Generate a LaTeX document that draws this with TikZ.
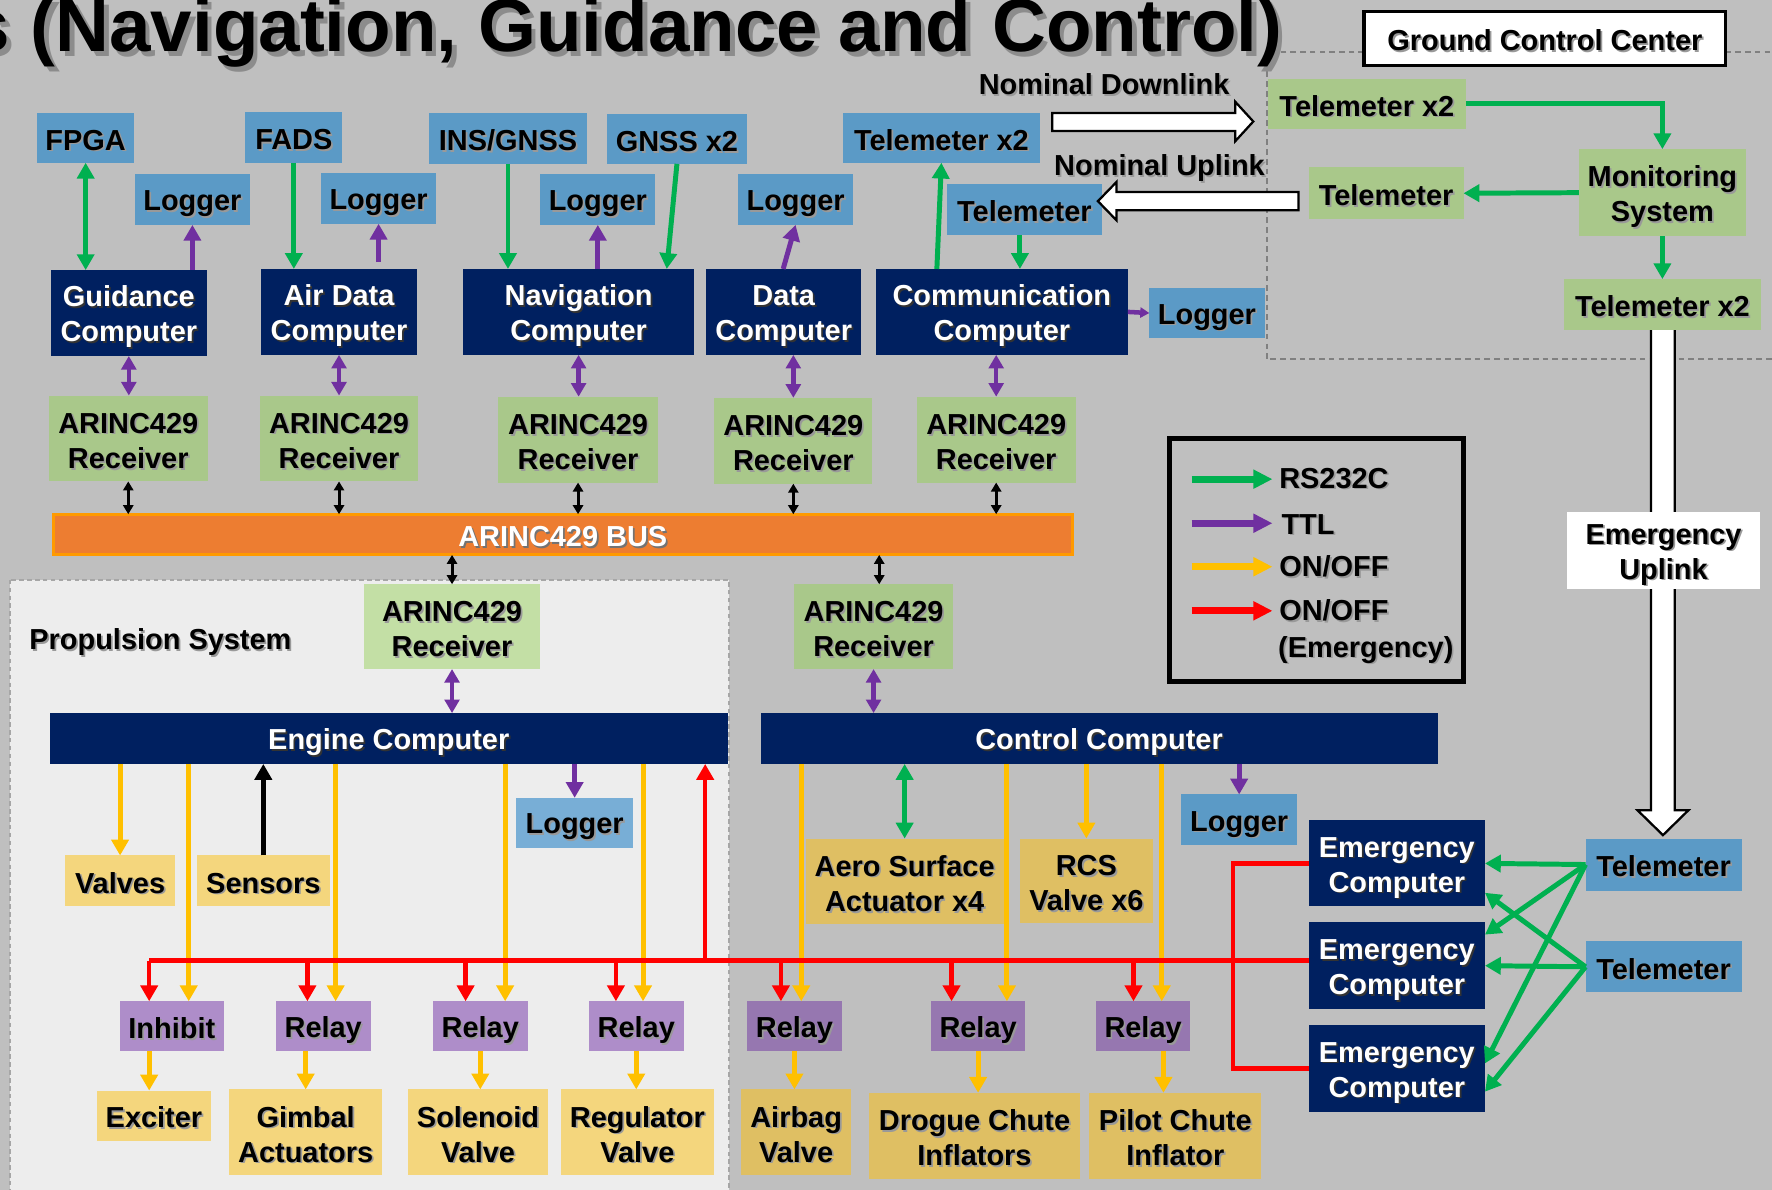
\documentclass[tikz,border=0pt]{standalone}
\usepackage{fontspec}
\setmainfont{Liberation Sans}
\usetikzlibrary{arrows.meta,calc}

\definecolor{bg}{HTML}{BFBFBF}
\definecolor{proparea}{HTML}{EDEDED}
\definecolor{navy}{HTML}{002060}
\definecolor{bluebox}{HTML}{5B9AC6}
\definecolor{bluelite}{HTML}{78AED6}
\definecolor{grnbox}{HTML}{A9C88A}
\definecolor{grnlite}{HTML}{C3DFA5}
\definecolor{yelbox}{HTML}{F4D67D}
\definecolor{yeldark}{HTML}{DFBF63}
\definecolor{purlite}{HTML}{AE8DC9}
\definecolor{purdark}{HTML}{9677B0}
\definecolor{busfill}{HTML}{ED7D31}
\definecolor{busline}{HTML}{FF9A00}
\definecolor{garrow}{HTML}{00B050}
\definecolor{parrow}{HTML}{7030A0}
\definecolor{yarrow}{HTML}{FFC000}
\definecolor{rarrow}{HTML}{FF0000}
\colorlet{shadowc}{black!40}

% text line with a soft drop shadow and a font-sized strut
\newcommand\tsh[1]{\leavevmode\rule[-0.134em]{0pt}{1.117em}\rlap{\kern.06em\raisebox{-.06em}[0pt][0pt]{\color{shadowc}#1}}#1}
\newcommand\boxfont{\fontsize{12.8pt}{15.5pt}\selectfont\bfseries\lineskiplimit=-100pt\relax}
% box from its corner coordinates: name, style, x1, y1, x2, y2, text
\newcommand\bx[7]{\node[#2, minimum width={(#5-#3)*0.5pt}, minimum height={(#6-#4)*0.5pt}] (#1) at ({(#3+#5)/2},{(#4+#6)/2}) {#7};}

\tikzset{
  bxs/.style={inner sep=0pt, outer sep=0pt, align=center, font=\boxfont, text=black},
  nv/.style={bxs, fill=navy, text=white, font={\boxfont\colorlet{shadowc}{black!80}}},
  bl/.style={bxs, fill=bluebox},
  bll/.style={bxs, fill=bluelite},
  gr/.style={bxs, fill=grnbox},
  grl/.style={bxs, fill=grnlite},
  yl/.style={bxs, fill=yelbox},
  yd/.style={bxs, fill=yeldark},
  pl/.style={bxs, fill=purlite},
  pd/.style={bxs, fill=purdark},
  wh/.style={bxs, fill=white},
  lbl/.style={inner sep=0pt, outer sep=0pt, font=\boxfont},
  tipbig/.tip={Triangle[length=7pt,width=7.5pt]},
  tipmid/.tip={Triangle[length=6pt,width=6.5pt]},
  tipsm/.tip={Triangle[length=4pt,width=4.5pt]},
  ga/.style={draw=garrow, line width=2.2pt, -tipbig},
  gda/.style={draw=garrow, line width=2.2pt, tipbig-tipbig},
  pa/.style={draw=parrow, line width=2.2pt, -tipbig},
  pas/.style={draw=parrow, line width=2pt, -tipsm},
  pda/.style={draw=parrow, line width=2pt, tipmid-tipmid},
  ya/.style={draw=yarrow, line width=2.2pt, -tipbig},
  ra/.style={draw=rarrow, line width=2pt, -tipbig},
  rl/.style={draw=rarrow, line width=2pt},
  bka/.style={draw=black, line width=1.3pt, tipsm-tipsm},
  bks/.style={draw=black, line width=2.2pt, -tipbig},
  fat/.style={fill=white, draw=black, line width=1pt, line join=miter},
  lga/.style={line width=3pt, -{Triangle[length=8.5pt,width=8pt]}},
}

\begin{document}
\begin{tikzpicture}[x=0.5pt, y=-0.5pt]
\useasboundingbox (0,0) rectangle (1568,1053);
\clip (0,0) rectangle (1568,1053);
\fill[bg] (0,0) rectangle (1568,1053);

% propulsion system area
\draw[fill=proparea, draw=black!35, line width=0.9pt, dash pattern=on 2pt off 1.5pt] (9,513) rectangle (645,1080);

% ground segment outline
\draw[draw=black!50, line width=0.8pt, dash pattern=on 2.5pt off 1.8pt] (1207,46) -- (1121,46) -- (1121,318) -- (1580,318);
\draw[draw=black!50, line width=0.8pt, dash pattern=on 2.5pt off 1.8pt] (1527,46) -- (1580,46);

% title
\node[anchor=base east, inner sep=0pt, font={\fontsize{33pt}{38pt}\selectfont\bfseries\colorlet{shadowc}{black!45}}] (title) at (1135,46) {\tsh{s (Navigation, Guidance and Control)}};

% emergency uplink shaft
\draw[fat] (1461,288) -- (1461,717) -- (1449,717) -- (1471.5,739) -- (1494,717) -- (1482,717) -- (1482,288) -- cycle;

% ground control center
\node[bxs, fill=white, draw=black, line width=1.5pt, minimum width=160pt, minimum height=24pt] (gcc) at (1367,34) {\tsh{Ground Control Center}};
\bx{gtx}{gr}{1122}{70}{1297}{114}{\tsh{Telemeter x2}}
\bx{mon}{gr}{1397}{132}{1545}{209}{\tsh{Monitoring}\\\tsh{System}}
\bx{gt}{gr}{1158}{148}{1295}{194}{\tsh{Telemeter}}
\bx{gtx2}{gr}{1384}{247}{1558}{292}{\tsh{Telemeter x2}}

% sensors and loggers, top row
\bx{fpga}{bl}{32.6}{100}{119}{144}{\tsh{FPGA}}
\bx{fads}{bl}{217}{99}{303}{144}{\tsh{FADS}}
\bx{ins}{bl}{380}{100}{519}{145}{\tsh{INS/GNSS}}
\bx{gnss}{bl}{537}{101}{661}{145}{\tsh{GNSS x2}}
\bx{telx}{bl}{746}{100}{920}{144}{\tsh{Telemeter x2}}
\bx{lg1}{bl}{119.5}{154}{221}{199}{\tsh{Logger}}
\bx{lg2}{bl}{284}{153}{386}{198}{\tsh{Logger}}
\bx{lg3}{bl}{478}{154}{580}{199}{\tsh{Logger}}
\bx{lg4}{bl}{653}{154}{755}{199}{\tsh{Logger}}
\bx{tel}{bl}{838}{163}{975}{208}{\tsh{Telemeter}}
\bx{lg5}{bl}{1017}{255}{1119}{299}{\tsh{Logger}}

% flight computers
\bx{guid}{nv}{45}{239}{183}{315}{\tsh{Guidance}\\\tsh{Computer}}
\bx{adc}{nv}{231}{238}{369}{314}{\tsh{Air Data}\\\tsh{Computer}}
\bx{nav}{nv}{410}{238}{614}{314}{\tsh{Navigation}\\\tsh{Computer}}
\bx{dat}{nv}{625}{238}{762}{314}{\tsh{Data}\\\tsh{Computer}}
\bx{com}{nv}{775}{238}{998}{314}{\tsh{Communication}\\\tsh{Computer}}

% ARINC429 receivers
\bx{r1}{gr}{43}{350}{184}{426}{\tsh{ARINC429}\\\tsh{Receiver}}
\bx{r2}{gr}{230}{350}{370}{426}{\tsh{ARINC429}\\\tsh{Receiver}}
\bx{r3}{gr}{441}{351}{582}{427}{\tsh{ARINC429}\\\tsh{Receiver}}
\bx{r4}{gr}{632}{352}{772}{428}{\tsh{ARINC429}\\\tsh{Receiver}}
\bx{r5}{gr}{811}{351}{952}{427}{\tsh{ARINC429}\\\tsh{Receiver}}
\bx{rp}{grl}{322}{517}{478}{592}{\tsh{ARINC429}\\\tsh{Receiver}}
\bx{rc}{gr}{703}{517}{843}{592}{\tsh{ARINC429}\\\tsh{Receiver}}

% bus
\node[bxs, fill=busfill, draw=busline, line width=1.3pt, text=white, font={\boxfont\colorlet{shadowc}{black!55}}, minimum width=451pt, minimum height=18pt] (bus) at (498,473) {\tsh{ARINC429 BUS}};

% propulsion and control computers
\bx{eng}{nv}{44}{631}{644}{676}{\tsh{Engine Computer}}
\bx{ctl}{nv}{673}{631}{1272}{676}{\tsh{Control Computer}}

\node[lbl, anchor=base west] (psys) at (26,575) {\tsh{Propulsion System}};

% engine peripherals
\bx{val}{yl}{57.5}{757}{155}{802}{\tsh{Valves}}
\bx{sen}{yl}{174}{757}{292}{802}{\tsh{Sensors}}
\bx{elg}{bll}{457}{706}{560}{750}{\tsh{Logger}}

% control peripherals
\bx{aero}{yd}{713}{742}{888}{818}{\tsh{Aero Surface}\\\tsh{Actuator x4}}
\bx{rcs}{yd}{902.6}{742}{1020}{817}{\tsh{RCS}\\\tsh{Valve x6}}
\bx{clg}{bl}{1045}{703}{1148}{748}{\tsh{Logger}}

% relays
\bx{inh}{pl}{106}{886}{198}{930}{\tsh{Inhibit}}
\bx{rl1}{pl}{244}{886}{328}{930}{\tsh{Relay}}
\bx{rl2}{pl}{383}{886}{467}{930}{\tsh{Relay}}
\bx{rl3}{pl}{521}{886}{605}{930}{\tsh{Relay}}
\bx{rl4}{pd}{661}{886}{745}{930}{\tsh{Relay}}
\bx{rl5}{pd}{824}{886}{907}{930}{\tsh{Relay}}
\bx{rl6}{pd}{970}{886}{1053}{930}{\tsh{Relay}}

% actuated devices
\bx{exc}{yl}{86}{965}{186.5}{1009.5}{\tsh{Exciter}}
\bx{gim}{yl}{203}{964}{338}{1040}{\tsh{Gimbal}\\\tsh{Actuators}}
\bx{sol}{yl}{361}{964}{485}{1040}{\tsh{Solenoid}\\\tsh{Valve}}
\bx{reg}{yl}{496}{964}{632}{1040}{\tsh{Regulator}\\\tsh{Valve}}
\bx{air}{yd}{656}{964}{753}{1040}{\tsh{Airbag}\\\tsh{Valve}}
\bx{dro}{yd}{769}{967}{955.6}{1043}{\tsh{Drogue Chute}\\\tsh{Inflators}}
\bx{pil}{yd}{964}{967}{1116}{1043}{\tsh{Pilot Chute}\\\tsh{Inflator}}

% emergency chain
\bx{ec1}{nv}{1158}{726}{1314}{802}{\tsh{Emergency}\\\tsh{Computer}}
\bx{ec2}{nv}{1158}{816}{1314}{893}{\tsh{Emergency}\\\tsh{Computer}}
\bx{ec3}{nv}{1158}{907}{1314}{984}{\tsh{Emergency}\\\tsh{Computer}}
\bx{t1}{bl}{1403}{742}{1541}{788}{\tsh{Telemeter}}
\bx{t2}{bl}{1403}{833}{1541}{878}{\tsh{Telemeter}}

% ---- connectors, top section
\draw[gda] (fpga.south) -- (fpga.south |- guid.north);
\draw[ga] (fads.south) -- (fads.south |- adc.north);
\draw[ga] (ins.south) -- (ins.south |- nav.north);
\draw[ga] (gnss.south) -- ([xshift=-4.5pt]gnss.south |- nav.north);
\draw[pa] (guid.north -| lg1.south) -- (lg1.south);
\draw[pa] ([yshift=3pt]adc.north -| lg2.south) -- (lg2.south);
\draw[pa] (nav.north -| lg3.south) -- (lg3.south);
\draw[pa] ([xshift=-5.5pt]lg4.south |- dat.north) -- (lg4.south);
\draw[pas] (com.east) -- (lg5.west);
\draw[ga] ([xshift=-2pt]telx.south |- com.north) -- (telx.south);
\draw[ga] ([xshift=-2pt]tel.south) -- ([xshift=-2pt]tel.south |- com.north);

\draw[pda] (guid.south) -- (guid.south |- r1.north);
\draw[pda] (adc.south) -- (adc.south |- r2.north);
\draw[pda] (nav.south) -- (nav.south |- r3.north);
\draw[pda] (dat.south -| r4.north) -- (r4.north);
\draw[pda] (com.south -| r5.north) -- (r5.north);

\foreach \r in {r1,r2,r3,r4,r5} \draw[bka] (\r.south) -- (\r.south |- bus.north);
\draw[bka] (bus.south -| rp.north) -- (rp.north);
\draw[bka] ([xshift=2.5pt]rc.north |- bus.south) -- ([xshift=2.5pt]rc.north);
\draw[pda] (rp.south) -- (rp.south |- eng.north);
\draw[pda] (rc.south) -- (rc.south |- ctl.north);

% ---- ground segment
\draw[ga] (gtx.east) -| (mon.north);
\draw[ga] (mon.west) -- (gt.east);
\draw[ga] (mon.south) -- (mon.south |- gtx2.north);

% ---- engine computer outputs
\draw[ya] (eng.south -| val.north) -- (val.north);
\draw[bks] (sen.north) -- (sen.north |- eng.south);
\draw[pa] (eng.south -| elg.north) -- (elg.north);
\draw[ya] ([xshift=7.5pt]inh.north |- eng.south) -- ([xshift=7.5pt]inh.north);
\draw[ya] ([xshift=5.5pt]rl1.north |- eng.south) -- ([xshift=5.5pt]rl1.north);
\draw[ya] ([xshift=11pt]rl2.north |- eng.south) -- ([xshift=11pt]rl2.north);
\draw[ya] ([xshift=3pt]rl3.north |- eng.south) -- ([xshift=3pt]rl3.north);

% ---- control computer outputs
\draw[ya] ([xshift=3pt]rl4.north |- ctl.south) -- ([xshift=3pt]rl4.north);
\draw[ya] ([xshift=12.75pt]rl5.north |- ctl.south) -- ([xshift=12.75pt]rl5.north);
\draw[ya] ([xshift=8.25pt]rl6.north |- ctl.south) -- ([xshift=8.25pt]rl6.north);
\draw[gda] (aero.north) -- (aero.north |- ctl.south);
\draw[ya] (ctl.south -| rcs.north) -- (rcs.north);
\draw[pa] (ctl.south -| clg.north) -- (clg.north);

% ---- emergency ON/OFF lines
\coordinate (rb) at (624,850);
\coordinate (rx) at (1091,850);
\draw[rl] ([yshift=2.25pt]ec2.west) -- ([xshift=-10pt]inh.north |- rb);
\draw[ra] (rb) -- (rb |- eng.south);
\draw[ra] ([xshift=-10pt]inh.north |- rb) -- ([xshift=-10pt]inh.north);
\draw[ra] ([xshift=-7pt]rl1.north |- rb) -- ([xshift=-7pt]rl1.north);
\draw[ra] ([xshift=-6.5pt]rl2.north |- rb) -- ([xshift=-6.5pt]rl2.north);
\draw[ra] ([xshift=-9pt]rl3.north |- rb) -- ([xshift=-9pt]rl3.north);
\draw[ra] ([xshift=-6pt]rl4.north |- rb) -- ([xshift=-6pt]rl4.north);
\draw[ra] ([xshift=-11.75pt]rl5.north |- rb) -- ([xshift=-11.75pt]rl5.north);
\draw[ra] ([xshift=-4.25pt]rl6.north |- rb) -- ([xshift=-4.25pt]rl6.north);
\draw[rl, line join=miter] (ec1.west) -- (ec1.west -| rx) -- (ec3.west -| rx) -- (ec3.west);

% ---- relays to devices
\draw[ya] ([xshift=-10pt]inh.south) -- ([xshift=-10pt]inh.south |- exc.north);
\draw[ya] (rl1.south -| gim.north) -- (gim.north);
\draw[ya] (rl2.south) -- (rl2.south |- sol.north);
\draw[ya] (rl3.south) -- (rl3.south |- reg.north);
\draw[ya] (rl4.south) -- (rl4.south |- air.north);
\draw[ya] (rl5.south) -- (rl5.south |- dro.north);
\draw[ya] ([xshift=9pt]rl6.south) -- ([xshift=9pt]rl6.south |- pil.north);

% ---- telemeters to emergency computers
\draw[ga] (t1.west) -- (ec1.east);
\draw[ga] (t1.west) -- ([yshift=-5.5pt]ec2.north east);
\draw[ga] (t1.west) -- ([yshift=-17pt]ec3.north east);
\draw[ga] (t2.west) -- ([yshift=6pt]ec1.south east);
\draw[ga] (t2.west) -- (ec2.east);
\draw[ga] (t2.west) -- ([yshift=9pt]ec3.south east);

% ---- nominal links
\node[lbl, anchor=base] (ndl) at (977,84) {\tsh{Nominal Downlink}};
\node[lbl, anchor=base] (nul) at (1026,155.5) {\tsh{Nominal Uplink}};
\draw[fat] (931,100) -- (1093,100) -- (1093,90) -- (1109,107.5) -- (1093,125) -- (1093,116) -- (931,116) -- cycle;
\draw[fat] (1149,170) -- (988,170) -- (988,161) -- (971.5,178) -- (988,195) -- (988,186) -- (1149,186) -- cycle;

% emergency uplink label
\bx{eul}{wh}{1387}{453}{1557}{521}{\tsh{Emergency}\\\tsh{Uplink}}

% ---- legend
\draw[black, line width=2pt] (1035,388) rectangle (1295,603);
\coordinate (la1) at (1054.5,424); \coordinate (lb1) at (1126,424);
\coordinate (la2) at (1054.5,463); \coordinate (lb2) at (1126,463);
\coordinate (la3) at (1054.5,501.5); \coordinate (lb3) at (1126,501.5);
\coordinate (la4) at (1054.5,540.5); \coordinate (lb4) at (1126,540.5);
\draw[lga, garrow] (la1) -- (lb1);
\draw[lga, parrow] (la2) -- (lb2);
\draw[lga, yarrow] (la3) -- (lb3);
\draw[lga, rarrow] (la4) -- (lb4);
\node[lbl, anchor=base west] (lt1) at (1132,432) {\tsh{RS232C}};
\node[lbl, anchor=base west] (lt2) at (1134,472.6) {\tsh{TTL}};
\node[lbl, anchor=base west] (lt3) at (1132,510.5) {\tsh{ON/OFF}};
\node[lbl, anchor=base west] (lt4) at (1132,549.4) {\tsh{ON/OFF}};
\node[lbl, anchor=base west] (lt5) at (1131,581.5) {\tsh{(Emergency)}};
\end{tikzpicture}
\end{document}
